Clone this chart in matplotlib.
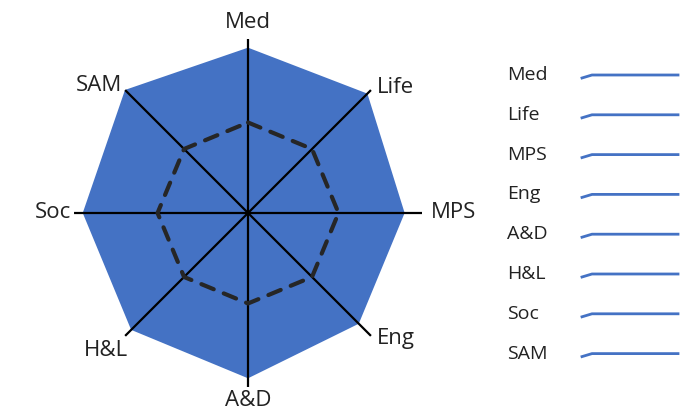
import numpy as np
import matplotlib
matplotlib.use("Agg")
import matplotlib.pyplot as plt
from matplotlib.lines import Line2D

plt.rcParams['font.family'] = ['Open Sans', 'DejaVu Sans']

categories = ["Med", "Life", "MPS", "Eng", "A&D", "H&L", "Soc", "SAM"]
outer_values = [95, 97, 90, 90, 95, 95, 95, 100]
inner_values = [52, 52, 52, 52, 52, 52, 52, 52]
axis_max = 100

BLUE = "#4472C4"
TEXT = "#222222"

fig = plt.figure(figsize=(6.99, 4.15), dpi=100)
ax = fig.add_axes([0.1059, 0.0675, 0.4979, 0.8386], projection="polar")
ax.set_theta_offset(np.pi / 2)
ax.set_theta_direction(-1)
ax.set_ylim(0, axis_max)
ax.grid(False)
ax.spines["polar"].set_visible(False)
ax.set_xticks([])
ax.set_yticks([])
ax.patch.set_alpha(0)

n = len(categories)
angles = np.linspace(0, 2 * np.pi, n, endpoint=False)

# filled outer series
th = np.append(angles, angles[0])
r_out = np.append(outer_values, outer_values[0])
ax.fill(th, r_out, color=BLUE, zorder=1, lw=0)

# spokes
for a in angles:
    ax.plot([a, a], [0, axis_max], color="black", lw=1.6, zorder=3, solid_capstyle="butt")

# dashed inner series
r_in = np.append(inner_values, inner_values[0])
ax.plot(th, r_in, color="#262626", lw=3, ls=(0, (3.2, 2.6)), zorder=4,
        dash_capstyle="round")

# category labels around the rim: (dx, dy) offsets in points, alignment
label_layout = {
    "Med": ((0, 4), "center", "bottom"),
    "Life": ((4, 2), "left", "center"),
    "MPS": ((6, 0), "left", "center"),
    "Eng": ((4, -2), "left", "center"),
    "A&D": ((0, -2.5), "center", "top"),
    "H&L": ((2, -3), "right", "top"),
    "Soc": ((-2, 0), "right", "center"),
    "SAM": ((-2, 3), "right", "center"),
}
for a, lab in zip(angles, categories):
    off, ha, va = label_layout[lab]
    ax.annotate(lab, xy=(a, axis_max), xytext=off, textcoords="offset points",
                ha=ha, va=va, fontsize=16, color=TEXT, annotation_clip=False)

# legend entries on the right
y0, dy = 415 - 75, 39.8
for i, lab in enumerate(categories):
    yp = (y0 - i * dy) / 415
    fig.text(507 / 699, yp, lab, ha="left", va="center", fontsize=14, color=TEXT)
    xs = np.array([582, 592, 678]) / 699
    ys = yp + np.array([-3, 0, 0]) / 415
    fig.add_artist(Line2D(xs, ys, color=BLUE, lw=2, transform=fig.transFigure))

fig.savefig("out.png", dpi=100)
